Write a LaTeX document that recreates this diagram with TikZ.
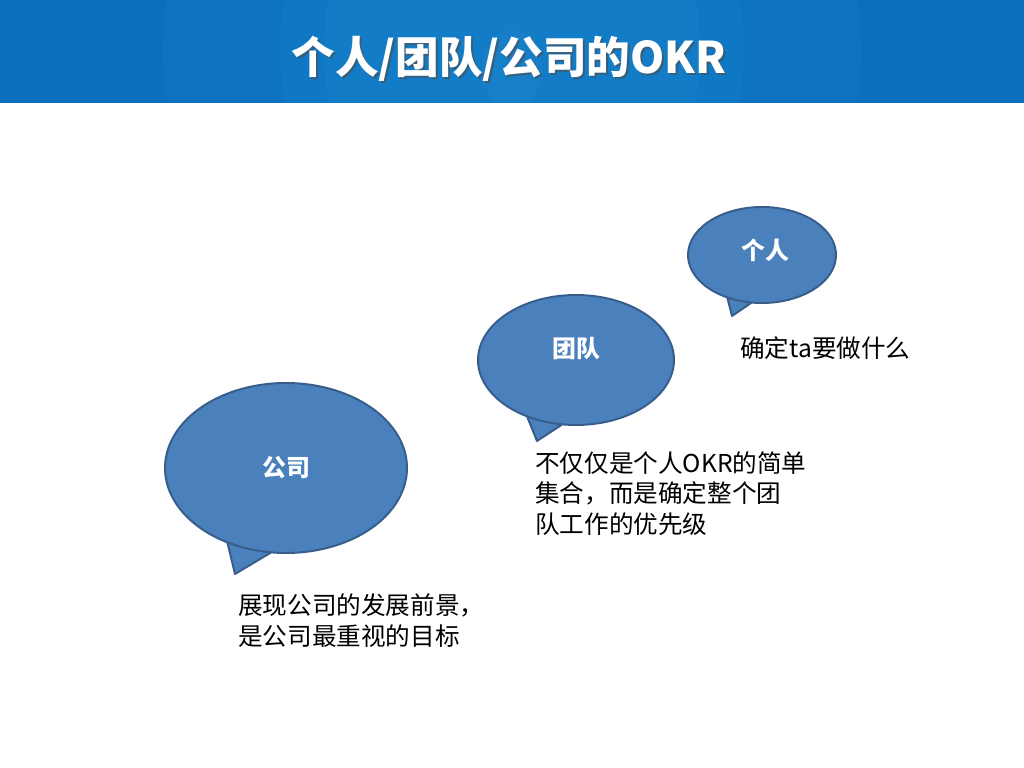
\documentclass[tikz,border=0pt]{standalone}
\usepackage{fontspec}
\setmainfont{Noto Sans CJK SC}
\usetikzlibrary{calc}
\definecolor{barblue}{HTML}{0A6FBF}
\definecolor{barmid}{HTML}{0F78C4}
\definecolor{barlight}{HTML}{167FC8}
\definecolor{bubblefill}{HTML}{4A81BC}
\definecolor{bubbleline}{HTML}{385D8A}
% speech bubble: centre, radii, tail gap angles, tip
\def\speech(#1)(#2:#3)(#4:#5)(#6){\draw[bubble] (#6) -- ($(#1)+({#2*cos(#5)},{#3*sin(#5)})$) arc (#5:#4+360:#2 and #3) -- cycle;}
\tikzset{
  bubble/.style={fill=bubblefill,draw=bubbleline,line width=1.4pt,line join=round},
  bubbletext/.style={text=white,font=\fontsize{17}{20}\selectfont\bfseries},
  saytext/.style={font=\fontsize{17.5}{22}\selectfont,align=left,inner sep=0pt,anchor=north west}
}

\begin{document}
\begin{tikzpicture}[x=0.025cm,y=-0.025cm]
	%%%%% START %%%%%
	\useasboundingbox (0,0) rectangle (1024,768);
	\fill[white] (0,0) rectangle (1024,768);

	% header bar
	\begin{scope}
		\clip (0,0) rectangle (1024,103);
		\fill[barblue] (0,0) rectangle (1024,103);
		\fill[barblue!60!barmid] (512,50) ellipse (350 and 300);
		\fill[barmid] (512,50) ellipse (232 and 250);
		\fill[barmid!40!barlight] (512,50) ellipse (188 and 220);
		\fill[barlight] (512,70) ellipse (30 and 40);
	\end{scope}
	\node[text=black!70,opacity=0.6,font=\fontsize{31}{36}\selectfont\bfseries] at (511,61) {个人/团队/公司的OKR};
	\node[text=white,font=\fontsize{31}{36}\selectfont\bfseries] (title) at (509,59) {个人/团队/公司的OKR};

	% bubbles
	\coordinate (c1) at (286,468);
	\coordinate (c2) at (576,360);
	\coordinate (c3) at (762,255);
	\speech(c1)(121:85)(119:97)(235,574)
	\speech(c2)(98:65)(120:98)(537,441)
	\speech(c3)(74:48)(118:98)(732,316)

	\node[bubbletext] (gongsi) at (286,468) {公司};
	\node[bubbletext] (tuandui) at (576,349) {团队};
	\node[bubbletext] (geren) at (765,250) {个人};

	% texts
	\node[saytext] (geren say) at (740,336) {确定ta要做什么};
	\node[saytext] (tuandui say) at (535,451) {不仅仅是个人OKR的简单\\集合，而是确定整个团\\队工作的优先级};
	\node[saytext] (gongsi say) at (238,593) {展现公司的发展前景，\\是公司最重视的目标};
	%%%%% END %%%%%
\end{tikzpicture}
\end{document}
